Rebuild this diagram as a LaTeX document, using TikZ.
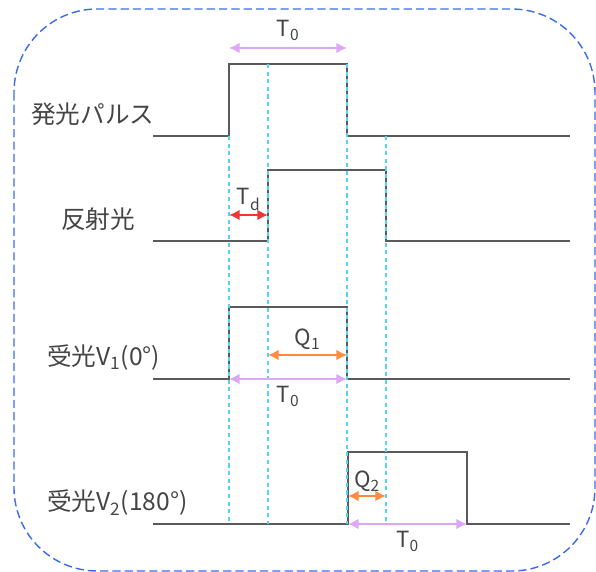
\documentclass[tikz,border=0pt]{standalone}
\usepackage{fontspec}
\setmainfont{Noto Sans CJK JP}
\usetikzlibrary{arrows.meta}

\definecolor{sigGray}{HTML}{5A5A5A}
\definecolor{textGray}{HTML}{454545}
\definecolor{guideCyan}{HTML}{4FD6F2}
\definecolor{frameBlue}{HTML}{3A6BEE}
\definecolor{spanViolet}{HTML}{DCA8F4}
\definecolor{delayRed}{HTML}{F03535}
\definecolor{chargeOrange}{HTML}{FF8A40}

\begin{document}
\begin{tikzpicture}[
    x=0.03cm, y=-0.03cm,
    frame/.style={frameBlue, line width=1.2pt, dash pattern=on 7pt off 3.5pt, rounded corners=2.5cm},
    signal/.style={sigGray, line width=1.8pt},
    guide/.style={guideCyan, line width=1.9pt, dash pattern=on 3.5pt off 3pt},
    span/.style={spanViolet, line width=1.6pt, {Latex[length=9pt,width=9pt]}-{Latex[length=9pt,width=9pt]}},
    delay/.style={delayRed, line width=1.6pt, {Latex[length=9pt,width=9pt]}-{Latex[length=9pt,width=9pt]}},
    charge/.style={chargeOrange, line width=1.6pt, {Latex[length=9pt,width=9pt]}-{Latex[length=9pt,width=9pt]}},
    sigLabel/.style={textGray, font=\fontsize{21}{24}\selectfont, anchor=west, inner sep=0pt},
    timeLabel/.style={textGray, font=\fontsize{19}{22}\selectfont, inner sep=2pt}
]

\useasboundingbox (0,0) rectangle (596,572);

% Frame
\draw[frame] (14,9) rectangle (595,571);

% Signal names
\node[sigLabel] (lbl-emit) at (31,114) {発光パルス};
\node[sigLabel] (lbl-refl) at (61,219) {反射光};
\node[sigLabel] (lbl-v1) at (47,358) {受光V\textsubscript{1}(0°)};
\node[sigLabel] (lbl-v2) at (47,503) {受光V\textsubscript{2}(180°)};

% Waveforms
\draw[signal] (153,136) -- (229,136) -- (229,64) -- (347,64) -- (347,136) -- (570,136);
\draw[signal] (153,241) -- (268,241) -- (268,170) -- (386,170) -- (386,241) -- (570,241);
\draw[signal] (153,379) -- (229,379) -- (229,307) -- (347,307) -- (347,379) -- (570,379);
\draw[signal] (153,524) -- (348,524) -- (348,452) -- (467,452) -- (467,524) -- (570,524);

% Timing guides
\foreach \x/\ytop in {229/136, 268/64, 347/64, 386/136} {
    \draw[guide] (\x,\ytop) -- (\x,524);
}

% Pulse width T0 (top)
\coordinate (t0-top-l) at (229,48);
\coordinate (t0-top-r) at (347,48);
\draw[span] (t0-top-l) -- node[timeLabel, above=3pt] (lbl-t0-top) {T\textsubscript{0}} (t0-top-r);

% Delay Td
\coordinate (td-l) at (229,215);
\coordinate (td-r) at (268,215);
\draw[delay] (td-l) -- node[timeLabel, above=1pt] (lbl-td) {T\textsubscript{d}} (td-r);

% Charge Q1
\coordinate (q1-l) at (268,355);
\coordinate (q1-r) at (347,355);
\draw[charge] (q1-l) -- node[timeLabel, above=2pt] (lbl-q1) {Q\textsubscript{1}} (q1-r);

% Window V1
\coordinate (w1-l) at (229,379);
\coordinate (w1-r) at (347,379);
\draw[span] (w1-l) -- node[timeLabel, below=3pt] (lbl-t0-v1) {T\textsubscript{0}} (w1-r);

% Charge Q2
\coordinate (q2-l) at (348,496);
\coordinate (q2-r) at (386,496);
\draw[charge] (q2-l) -- node[timeLabel, above=1pt] (lbl-q2) {Q\textsubscript{2}} (q2-r);

% Window V2
\coordinate (w2-l) at (348,524);
\coordinate (w2-r) at (467,524);
\draw[span] (w2-l) -- node[timeLabel, below=3pt] (lbl-t0-v2) {T\textsubscript{0}} (w2-r);

\end{tikzpicture}
\end{document}
